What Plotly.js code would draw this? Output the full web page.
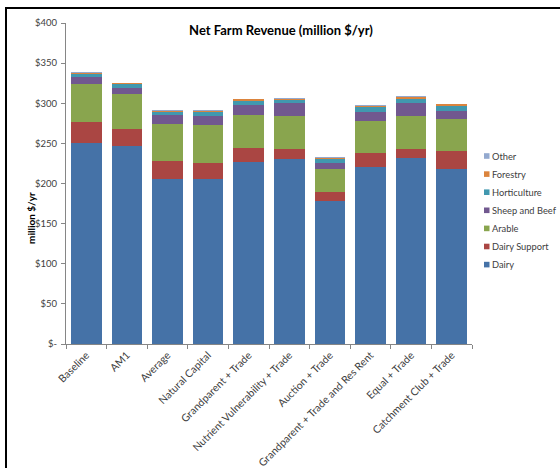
<!DOCTYPE html>
<html>
<head>
<meta charset="utf-8">
<script src="https://cdn.plot.ly/plotly-3.0.1.min.js"></script>
<style>
  html, body { margin: 0; padding: 0; background: #fff; overflow: hidden; }
  #chart { width: 560px; height: 468px; }
  #frame { position: absolute; left: 5px; top: 7px; width: 700px; height: 700px;
           border-left: 2px solid #000; border-top: 2px solid #000; pointer-events: none; }
</style>
</head>
<body>
<div id="chart"></div>
<div id="frame"></div>
<script>
const categories = ['Baseline', 'AM1', 'Average', 'Natural Capital', 'Grandparent + Trade',
  'Nutrient Vulnerability + Trade', 'Auction + Trade', 'Grandparent + Trade and Res Rent',
  'Equal + Trade', 'Catchment Club + Trade'];

const dairy        = [250.8, 247.1, 205.2, 205.2, 227.2, 230.5, 177.8, 220.6, 231.8, 217.7];
const dairySupport = [25.5, 20.4, 23.2, 20.0, 17.4, 12.5, 12.0, 17.4, 10.8, 22.4];
const arable       = [47.5, 44.5, 45.7, 47.3, 40.8, 41.5, 28.6, 39.9, 41.9, 39.9];
const sheepBeef    = [8.7, 7.4, 11.3, 12.0, 12.4, 15.4, 7.1, 11.6, 15.5, 10.7];
const horticulture = [4.1, 4.2, 4.1, 4.6, 5.4, 4.1, 5.4, 5.8, 5.3, 6.3];
const forestry     = [1.6, 1.3, 1.3, 1.3, 1.5, 1.5, 1.5, 1.8, 3.0, 1.8];
const other        = [0.8, 0.7, 0.6, 0.6, 0.5, 0.5, 0.5, 0.7, 0.7, 0.6];

const seriesNames  = ['Dairy', 'Dairy Support', 'Arable', 'Sheep and Beef', 'Horticulture', 'Forestry', 'Other'];
const seriesValues = [dairy, dairySupport, arable, sheepBeef, horticulture, forestry, other];
const seriesColors = ['#4572A7', '#AA4643', '#89A54E', '#71588F', '#4198AF', '#DB843D', '#93A9CF'];

const yTickVals = [0, 50, 100, 150, 200, 250, 300, 350, 400];
const yTickText = ['$-', '$50', '$100', '$150', '$200', '$250', '$300', '$350', '$400'];

const FONT = 'Lato, "Open Sans", sans-serif';
const TXT = '#404040';

const traces = seriesNames.map((name, i) => ({
  type: 'bar',
  name: name,
  x: categories,
  y: seriesValues[i],
  marker: { color: seriesColors[i], line: { width: 0 } },
  showlegend: false,
  hoverinfo: 'name+y'
}));

// plot-area geometry (pixels) used to place the custom legend
const M = { l: 66, r: 88, t: 23, b: 124 };
const W = 560, H = 468;
const pw = W - M.l - M.r, ph = H - M.t - M.b;
const px2x = px => (px - M.l) / pw;
const py2y = py => (H - M.b - py) / ph;

const shapes = [];
const annotations = [];
// legend: top entry = last series
const legendTop = 156, legendStep = 18.1;
for (let k = 0; k < seriesNames.length; k++) {
  const i = seriesNames.length - 1 - k;
  const cy = legendTop + k * legendStep;
  shapes.push({
    type: 'rect', xref: 'paper', yref: 'paper',
    x0: px2x(484), x1: px2x(489.5), y0: py2y(cy + 2.8), y1: py2y(cy - 2.8),
    fillcolor: seriesColors[i], line: { width: 0 }
  });
  annotations.push({
    xref: 'paper', yref: 'paper', x: px2x(490), y: py2y(cy),
    xanchor: 'left', yanchor: 'middle', showarrow: false,
    text: seriesNames[i], font: { family: FONT, size: 9.3, color: TXT }
  });
}
annotations.push({
  xref: 'paper', yref: 'paper', x: px2x(31), y: py2y(218),
  xanchor: 'center', yanchor: 'middle', showarrow: false, textangle: -90,
  text: '<b>million $/yr</b>', font: { family: FONT, size: 10, color: '#000' }
});

const layout = {
  width: W, height: H,
  margin: M,
  paper_bgcolor: '#fff', plot_bgcolor: '#fff',
  barmode: 'stack',
  bargap: 0.25,
  showlegend: false,
  font: { family: FONT, size: 10, color: TXT },
  title: {
    text: '<b>Net Farm Revenue (million $/yr)</b>',
    font: { family: FONT, size: 13, color: '#000' },
    xref: 'paper', x: px2x(281), xanchor: 'center',
    yref: 'container', y: 1 - 30 / H, yanchor: 'middle'
  },
  xaxis: {
    type: 'category',
    tickangle: -45,
    showline: true, linecolor: '#868686', linewidth: 1,
    ticks: 'outside', tickson: 'boundaries', ticklen: 4, tickcolor: '#868686',
    showgrid: false, zeroline: false,
    tickfont: { family: FONT, size: 10.5, color: TXT }
  },
  yaxis: {
    range: [0, 400],
    tickvals: yTickVals, ticktext: yTickText,
    showline: true, linecolor: '#868686', linewidth: 1,
    ticks: 'outside', ticklen: 4, tickcolor: '#868686',
    showgrid: false, zeroline: false,
    tickfont: { family: FONT, size: 9.5, color: TXT },
    ticklabelstandoff: 2
  },
  shapes: shapes,
  annotations: annotations
};

Plotly.newPlot('chart', traces, layout, { displayModeBar: false, staticPlot: true });
</script>
</body>
</html>
